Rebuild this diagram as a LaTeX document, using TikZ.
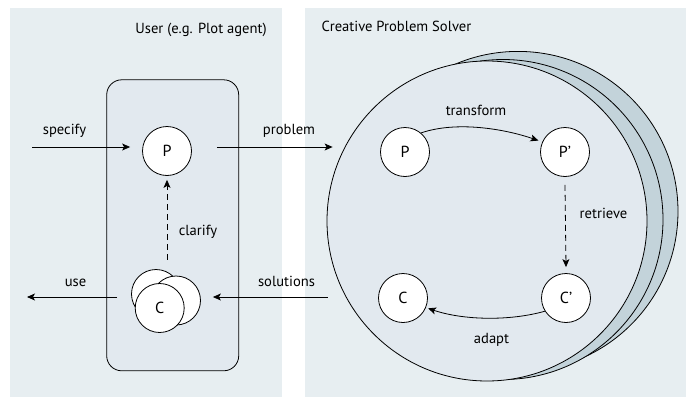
\documentclass[tikz,border=0pt]{standalone}
\usepackage{fontspec}
\setmainfont{PT Sans}
\usetikzlibrary{arrows.meta}
\definecolor{panelbg}{HTML}{E7EEF1}
\definecolor{innerbg}{HTML}{E2E9EF}
\definecolor{backbg}{HTML}{C3D3DA}
\begin{document}
\begin{tikzpicture}[x=1pt,y=-1pt,
  arr/.style={-{Stealth[length=8pt,width=7pt,inset=2pt]},line width=0.8pt},
  dasharr/.style={arr,dash pattern=on 6pt off 4pt},
  smallc/.style={circle,draw,line width=0.8pt,fill=white,minimum size=49pt,inner sep=0pt,font=\fontsize{16}{16}\selectfont},
  bigc/.style={circle,draw,line width=0.8pt,minimum size=320pt,inner sep=0pt},
  lbl/.style={anchor=base,inner sep=0pt,font=\fontsize{14.6}{16}\selectfont}]
\useasboundingbox (0,0) rectangle (686,407);
\fill[panelbg] (10,8) rectangle (282,397);
\fill[panelbg] (305,8) rectangle (686,397);
% titles
\node[lbl] (t1) at (201,33) {User (e.g. Plot agent)};
\node[lbl] (t2) at (396.5,31) {Creative Problem Solver};
% user box
\node[draw,line width=0.8pt,fill=innerbg,rounded corners=15pt,minimum width=132pt,minimum height=291pt,inner sep=0pt] (box) at (172.7,225.3) {};
\node[smallc] (P) at (167,151) {P};
\node[smallc] (Cb) at (156,294) {};
\node[smallc] (Cr) at (176,300.5) {};
\node[smallc] (C) at (159.7,308) {C};
% solver circles
\node[bigc,fill=backbg] (s3) at (518,211.4) {};
\node[bigc,fill=backbg] (s2) at (503,219.5) {};
\node[bigc,fill=innerbg] (s1) at (487,221) {};
\node[smallc] (P2) at (405,152) {P};
\node[smallc] (P3) at (565,152) {P'};
\node[smallc] (C2) at (403,298) {C};
\node[smallc] (C3) at (566,298) {C'};
% free ends
\coordinate (specA) at (32,147);
\coordinate (useB) at (27,297);
% connectors
\draw[arr] (specA) -- ([xshift=-12pt,yshift=4pt]P.west);
\draw[arr] ([xshift=25pt,yshift=4pt]P.east) -- ([xshift=6pt]s1.west |- 0,147);
\draw[dasharr] ([yshift=-84pt]P.south) -- ([yshift=-4pt]P.south);
\draw[arr] ([xshift=-14pt]Cb.west |- 0,297) -- (useB);
\draw[arr] ([xshift=1pt]s1.west |- 0,297) -- ([xshift=12pt]Cr.east |- 0,297);
\draw[arr] (P2.50) .. controls +(35,-12) and +(-35,-12) .. ([shift={(-5pt,-1pt)}]P3.150);
\draw[dasharr] ([yshift=-8pt]P3.south) -- ([yshift=6pt]C3.north);
\draw[arr] (C3.212) .. controls +(-35,10) and +(35,12) .. ([shift={(2pt,-1pt)}]C2.338);
% labels
\node[lbl] (l1) at (64.5,134) {specify};
\node[lbl] (l2) at (289,134) {problem};
\node[lbl] (l3) at (198,235) {clarify};
\node[lbl] (l4) at (75.5,286) {use};
\node[lbl] (l5) at (286.5,286) {solutions};
\node[lbl] (l6) at (476,115) {transform};
\node[lbl] (l7) at (603.5,218) {retrieve};
\node[lbl] (l8) at (491.5,343) {adapt};
\end{tikzpicture}
\end{document}
